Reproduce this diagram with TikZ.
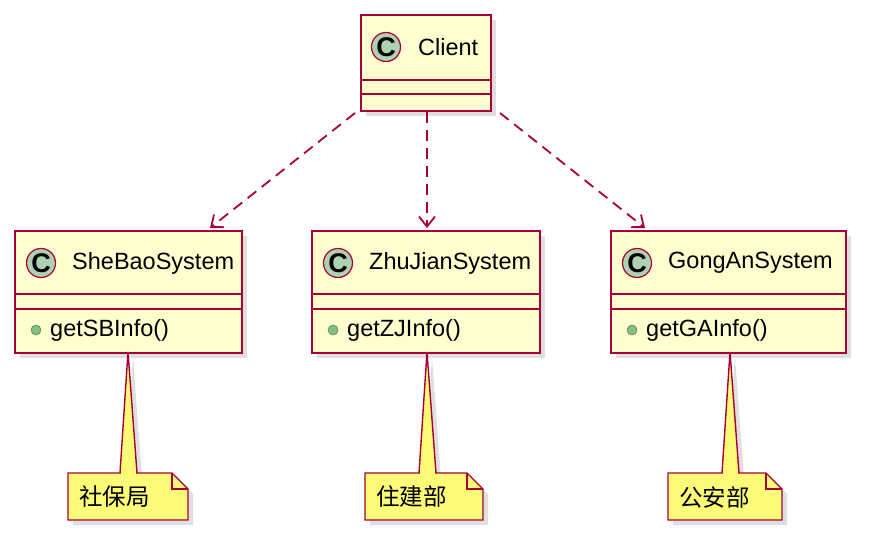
\documentclass[tikz,border=0pt]{standalone}
\usepackage{fontspec}
\setmainfont{Liberation Sans}
\newfontfamily\cjk{Noto Sans CJK SC}
\usetikzlibrary{arrows.meta,shadows}
\definecolor{clsfill}{HTML}{FEFECE}
\definecolor{clsline}{HTML}{A80036}
\definecolor{cfill}{HTML}{ADD1B2}
\definecolor{notefill}{HTML}{FBFB77}
\definecolor{pubfill}{HTML}{84BE84}
\tikzset{
  cls/.style={draw=clsline, fill=clsfill, line width=2pt, rectangle, inner sep=0pt,
    anchor=north west, drop shadow={shadow xshift=5pt, shadow yshift=-5pt, opacity=.25}},
  cmark/.style={circle, draw=clsline, fill=cfill, line width=1.2pt, minimum size=29pt,
    inner sep=0pt, font=\fontsize{27}{27}\selectfont\bfseries},
  ttl/.style={anchor=west, inner sep=0pt, font=\fontsize{23.5}{26}\selectfont},
  pub/.style={circle, draw=pubfill!70!black, fill=pubfill, minimum size=10pt, inner sep=0pt, line width=0.6pt},
  note/.style={draw=clsline, fill=notefill, line width=1.4pt,
    drop shadow={shadow xshift=5pt, shadow yshift=-5pt, opacity=.25}},
  notetxt/.style={inner sep=0pt, font=\cjk\fontsize{23.5}{26}\selectfont},
  dep/.style={clsline, line width=1.8pt, dash pattern=on 11pt off 7pt,
    -{Straight Barb[length=10pt,width=16pt,line width=1.8pt]}},
}
\begin{document}
\begin{tikzpicture}[x=1pt,y=-1pt]
\useasboundingbox (0,0) rectangle (870,534);

% client
\node[cls, minimum width=130pt, minimum height=96pt] (client) at (360,14) {};
\draw[clsline, line width=2pt] (360,80) -- (490,80) (360,94) -- (490,94);
\node[cmark] (cc) at (386,47) {C};
\node[ttl] (clientname) at (418,47) {Client};

% subsystems
\node[cls, minimum width=227pt, minimum height=122pt] (sb) at (14,230) {};
\node[cls, minimum width=228pt, minimum height=122pt] (zj) at (311,230) {};
\node[cls, minimum width=235pt, minimum height=122pt] (ga) at (610,230) {};
\foreach \n/\l/\r in {sb/14/241, zj/311/539, ga/610/845}
  \draw[clsline, line width=2pt] (\l,294) -- (\r,294) (\l,309) -- (\r,309);

\node[cmark] (sbc) at (41,263) {C};
\node[ttl] (sbname) at (72,263) {SheBaoSystem};
\node[pub] (sbp) at (36,330) {};
\node[ttl] (sbm) at (50,330) {getSBInfo()};

\node[cmark] (zjc) at (338,263) {C};
\node[ttl] (zjname) at (369,263) {ZhuJianSystem};
\node[pub] (zjp) at (333,330) {};
\node[ttl] (zjm) at (347,330) {getZJInfo()};

\node[cmark] (gac) at (637,263) {C};
\node[ttl] (ganame) at (668,263) {GongAnSystem};
\node[pub] (gap) at (632,330) {};
\node[ttl] (gam) at (646,330) {getGAInfo()};

% dependencies
\coordinate (c1) at (355,113);
\coordinate (c2) at (427,112);
\coordinate (c3) at (500,113);
\draw[dep] (c1) -- (210,228);
\draw[dep] (c2) -- (427,228);
\draw[dep] (c3) -- (645,228);

% notes
\foreach \x/\l/\r/\s in {128/68/188/120, 427/365/483/419, 730/668/782/722}{
  \draw[note] (\x,352) -- (\s,473) -- (\s+17,473) -- cycle;
  \draw[note] (\l,473) -- (\r-16,473) -- (\r,489) -- (\r,520) -- (\l,520) -- cycle;
  \draw[clsline, line width=1.4pt] (\r-16,473) -- (\r-16,489) -- (\r,489);
  \fill[notefill] (\s+1,471) rectangle (\s+16,475);
}
\node[notetxt, anchor=west] (sbnote) at (79,497) {社保局};
\node[notetxt, anchor=west] (zjnote) at (376,497) {住建部};
\node[notetxt, anchor=west] (ganote) at (679,497) {公安部};
\end{tikzpicture}
\end{document}
